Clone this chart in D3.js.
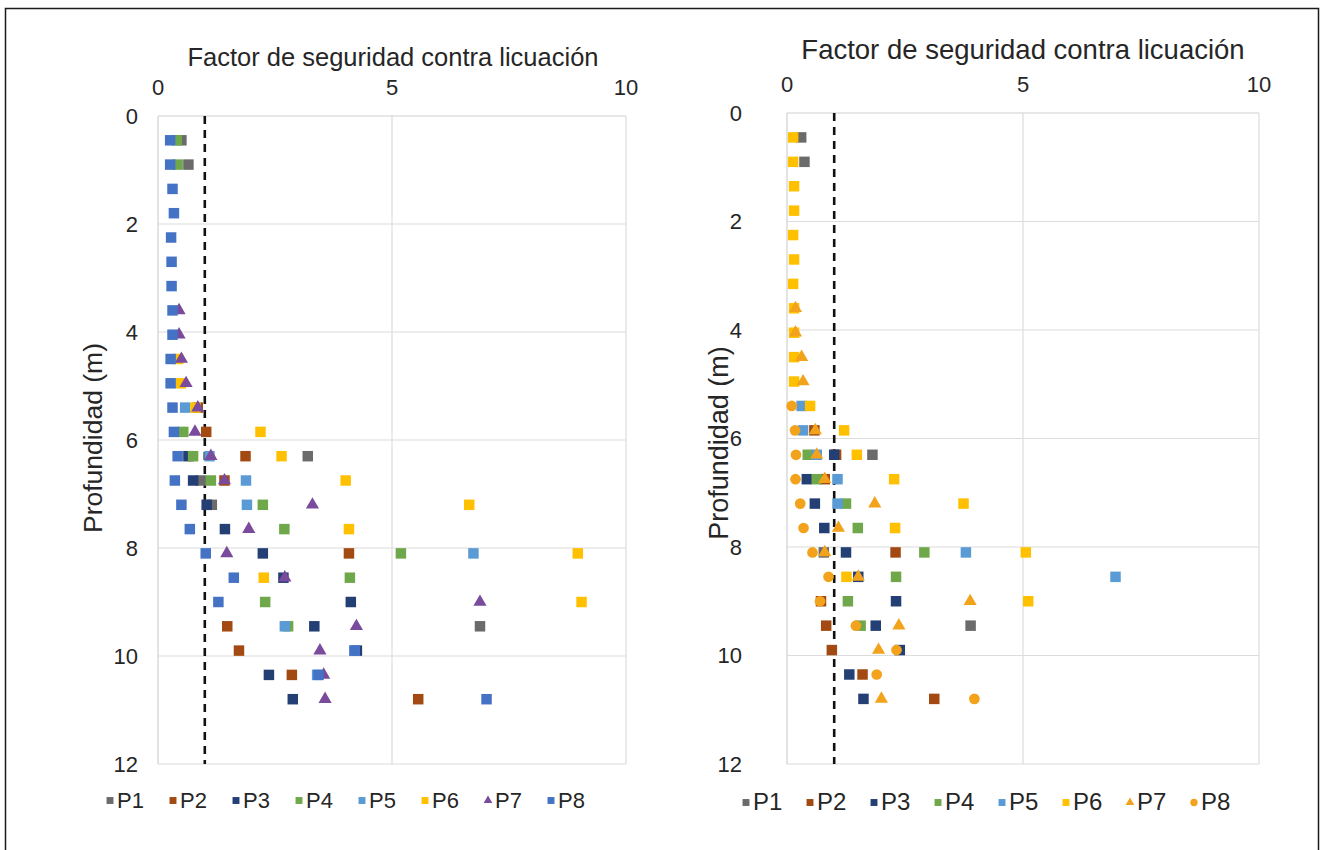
<!DOCTYPE html>
<html>
<head>
<meta charset="utf-8">
<script src="https://cdn.jsdelivr.net/npm/d3@7"></script>
<style>
  body { margin: 0; background: #fff; }
  svg { display: block; }
  text { font-family: "Liberation Sans", Arial, sans-serif; fill: #262626; }
</style>
</head>
<body>
<svg id="fig" width="1322" height="850"></svg>
<script>
// Depths (m) of the SPT test intervals
const depths = [0.45, 0.9, 1.35, 1.8, 2.25, 2.7, 3.15, 3.6, 4.05, 4.5, 4.95, 5.4,
                5.85, 6.3, 6.75, 7.2, 7.65, 8.1, 8.55, 9.0, 9.45, 9.9, 10.35, 10.8];

const seriesNames = ["P1", "P2", "P3", "P4", "P5", "P6", "P7", "P8"];
const xTicks = [0, 5, 10];
const yTicks = [0, 2, 4, 6, 8, 10, 12];
const fsLimit = 1;

// Safety factor against liquefaction, first method (one value per depth, null = no data)
const leftP1 = [0.5, 0.65, null, null, null, null, null, null, null, null, null, null,
                null, 3.2, 0.92, 1.15, null, null, null, null, 6.88, null, null, null];
const leftP2 = [null, null, null, null, null, null, null, null, null, null, null, 0.85,
                1.03, 1.87, 1.42, null, null, 4.08, null, null, 1.48, 1.73, 2.86, 5.56];
const leftP3 = [null, null, null, null, null, null, null, null, null, null, null, null,
                null, 0.65, 0.75, 1.04, 1.43, 2.24, 2.68, 4.12, 3.34, 4.25, 2.37, 2.88];
const leftP4 = [0.4, 0.42, null, null, null, null, null, null, null, null, null, null,
                0.54, 0.75, 1.13, 2.24, 2.7, 5.19, 4.1, 2.29, 2.78, null, null, null];
const leftP5 = [null, null, null, null, null, null, null, null, null, null, null, 0.58,
                null, 1.1, 1.88, 1.9, null, 6.74, null, null, 2.71, 4.2, 3.4, null];
const leftP6 = [null, null, null, null, null, null, null, null, null, 0.43, 0.49, 0.8,
                2.19, 2.64, 4.01, 6.65, 4.08, 8.97, 2.26, 9.05, null, null, null, null];
const leftP7 = [null, null, null, null, null, null, null, 0.45, 0.45, 0.5, 0.6, 0.85,
                0.79, 1.13, 1.42, 3.3, 1.94, 1.47, 2.71, 6.88, 4.24, 3.46, 3.54, 3.57];
const leftP8 = [0.26, 0.26, 0.31, 0.34, 0.28, 0.29, 0.29, 0.31, 0.31, 0.27, 0.27, 0.31,
                0.34, 0.42, 0.36, 0.5, 0.68, 1.02, 1.62, 1.29, null, 4.2, 3.43, 7.02];

// Safety factor against liquefaction, second method
const rightP1 = [0.3, 0.37, null, null, null, null, null, null, null, null, null, null,
                 null, 1.81, null, null, null, 0.78, null, null, 3.89, null, null, null];
const rightP2 = [null, null, null, null, null, null, null, null, null, null, null, null,
                 0.58, 1.04, 0.8, null, null, 2.3, null, 0.72, 0.83, 0.95, 1.6, 3.12];
const rightP3 = [null, null, null, null, null, null, null, null, null, null, null, null,
                 null, 1.0, 0.42, 0.59, 0.79, 1.25, 1.51, 2.31, 1.88, 2.39, 1.32, 1.62];
const rightP4 = [null, null, null, null, null, null, null, null, null, null, null, null,
                 null, 0.44, 0.63, 1.25, 1.5, 2.91, 2.31, 1.29, 1.56, null, null, null];
const rightP5 = [null, null, null, null, null, null, null, null, null, null, null, 0.31,
                 0.34, 0.63, 1.07, 1.07, null, 3.79, 6.96, null, null, null, null, null];
const rightP6 = [0.13, 0.13, 0.15, 0.15, 0.13, 0.15, 0.13, 0.15, 0.15, 0.15, 0.15, 0.49,
                 1.21, 1.48, 2.27, 3.74, 2.29, 5.06, 1.26, 5.11, null, null, null, null];
const rightP7 = [null, null, null, null, null, null, null, 0.18, 0.18, 0.31, 0.34, null,
                 0.6, 0.63, 0.8, 1.86, 1.09, 0.8, 1.51, 3.88, 2.37, 1.94, null, 2.0];
const rightP8 = [null, null, null, null, null, null, null, null, null, null, null, 0.1,
                 0.17, 0.19, 0.18, 0.28, 0.35, 0.54, 0.88, 0.7, 1.46, 2.32, 1.9, 3.97];

const leftColors  = ["#6b6b6b", "#a24a12", "#243f73", "#6fa84a", "#5b9bd5", "#ffc000", "#7a4a9c", "#4472c4"];
const rightColors = ["#6b6b6b", "#a24a12", "#243f73", "#6fa84a", "#5b9bd5", "#ffc000", "#f2a31b", "#f2a31b"];
const leftShapes  = ["square", "square", "square", "square", "square", "square", "triangle", "square"];
const rightShapes = ["square", "square", "square", "square", "square", "square", "triangle", "circle"];

const svg = d3.select("#fig");

// outer frame of the figure
svg.append("rect")
  .attr("x", 5.5).attr("y", 8.5).attr("width", 1313).attr("height", 860)
  .attr("fill", "none").attr("stroke", "#1a1a1a").attr("stroke-width", 1.5);

function symbolPath(shape, size) {
  const type = shape === "triangle" ? d3.symbolTriangle
             : shape === "circle" ? d3.symbolCircle : d3.symbolSquare;
  return d3.symbol().type(type).size(size)();
}

function drawPanel(cfg) {
  const x = d3.scaleLinear().domain([0, 10]).range([cfg.x0, cfg.x1]);
  const y = d3.scaleLinear().domain([0, 12]).range([cfg.y0, cfg.y1]);
  const g = svg.append("g");

  // gridlines
  g.selectAll(".hgrid").data(yTicks.filter(d => d > 0)).join("line")
    .attr("x1", cfg.x0).attr("x2", cfg.x1)
    .attr("y1", d => y(d)).attr("y2", d => y(d))
    .attr("stroke", "#dcdcdc").attr("stroke-width", 1.2);
  g.selectAll(".vgrid").data(xTicks.filter(d => d > 0)).join("line")
    .attr("x1", d => x(d)).attr("x2", d => x(d))
    .attr("y1", cfg.y0).attr("y2", cfg.y1)
    .attr("stroke", "#dcdcdc").attr("stroke-width", 1.2);
  g.append("line")
    .attr("x1", cfg.x0).attr("x2", cfg.x1).attr("y1", cfg.y0).attr("y2", cfg.y0)
    .attr("stroke", "#d0d0d0").attr("stroke-width", 1.2);
  g.append("line")
    .attr("x1", cfg.x0).attr("x2", cfg.x0).attr("y1", cfg.y0).attr("y2", cfg.y1)
    .attr("stroke", "#d0d0d0").attr("stroke-width", 1.2);

  // tick labels
  g.selectAll(".xt").data(xTicks).join("text")
    .attr("x", d => x(d)).attr("y", cfg.xTickY)
    .attr("text-anchor", "middle").attr("font-size", cfg.tickSize)
    .text(d => d);
  g.selectAll(".yt").data(yTicks).join("text")
    .attr("x", cfg.x0 - cfg.yTickGap).attr("y", d => y(d))
    .attr("dy", "0.36em")
    .attr("text-anchor", "end").attr("font-size", cfg.tickSize)
    .text(d => d);

  // axis titles
  g.append("text")
    .attr("x", cfg.titleX).attr("y", cfg.titleY)
    .attr("text-anchor", "middle").attr("font-size", cfg.titleSize)
    .text("Factor de seguridad contra licuación");
  g.append("text")
    .attr("transform", `translate(${cfg.yTitleX},${cfg.yTitleY}) rotate(-90)`)
    .attr("text-anchor", "middle").attr("font-size", cfg.yTitleSize)
    .text("Profundidad (m)");

  // FS = 1 limit
  g.append("line")
    .attr("x1", x(fsLimit)).attr("x2", x(fsLimit))
    .attr("y1", cfg.y0).attr("y2", cfg.y1)
    .attr("stroke", "#111").attr("stroke-width", 2.6)
    .attr("stroke-dasharray", "8,6");

  // data points
  cfg.series.forEach((vals, i) => {
    const pts = depths.map((d, k) => ({ d, v: vals[k] })).filter(p => p.v != null);
    const shape = cfg.shapes[i];
    const size = shape === "triangle" ? 75 : shape === "circle" ? 90 : 110;
    g.append("g").selectAll("path").data(pts).join("path")
      .attr("d", symbolPath(shape, size))
      .attr("transform", p => `translate(${x(p.v)},${y(p.d)})`)
      .attr("fill", cfg.colors[i]);
  });

  // legend
  const lg = g.append("g");
  seriesNames.forEach((name, i) => {
    const lx = cfg.legendX + i * cfg.legendStep;
    const shape = cfg.shapes[i];
    const size = shape === "triangle" ? 32 : shape === "circle" ? 42 : 48;
    lg.append("path")
      .attr("d", symbolPath(shape, size))
      .attr("transform", `translate(${lx},${cfg.legendY - 7.5})`)
      .attr("fill", cfg.colors[i]);
    lg.append("text")
      .attr("x", lx + 7).attr("y", cfg.legendY)
      .attr("font-size", cfg.legendSize)
      .text(name);
  });
}

drawPanel({
  x0: 158, x1: 626, y0: 116, y1: 764,
  series: [leftP1, leftP2, leftP3, leftP4, leftP5, leftP6, leftP7, leftP8],
  colors: leftColors, shapes: leftShapes,
  tickSize: 22, xTickY: 95, yTickGap: 20,
  titleX: 393, titleY: 66, titleSize: 25.5,
  yTitleX: 102, yTitleY: 438, yTitleSize: 26.5,
  legendX: 110, legendStep: 63, legendY: 808, legendSize: 22
});

drawPanel({
  x0: 787, x1: 1259, y0: 113, y1: 764,
  series: [rightP1, rightP2, rightP3, rightP4, rightP5, rightP6, rightP7, rightP8],
  colors: rightColors, shapes: rightShapes,
  tickSize: 22, xTickY: 92, yTickGap: 45,
  titleX: 1023, titleY: 59, titleSize: 27.5,
  yTitleX: 728, yTitleY: 443, yTitleSize: 27,
  legendX: 746, legendStep: 64, legendY: 810, legendSize: 24
});
</script>
</body>
</html>
